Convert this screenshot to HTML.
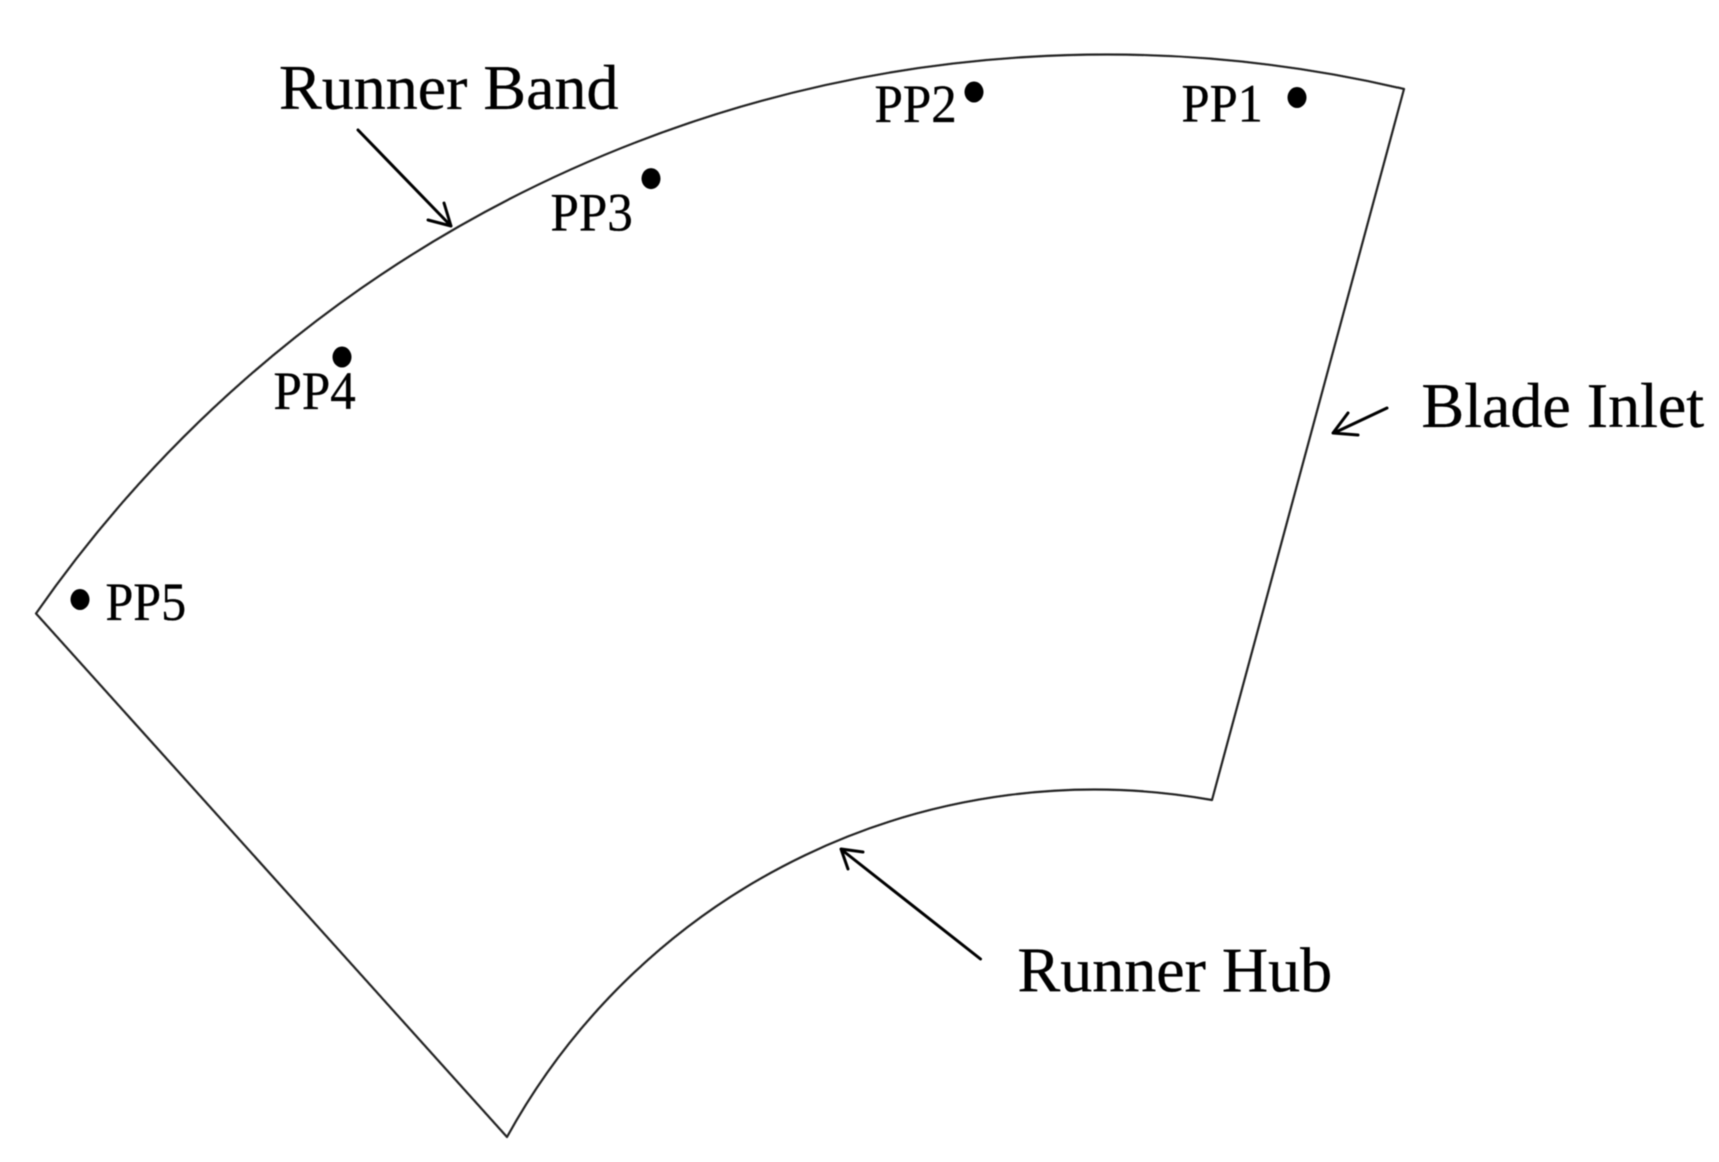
<!DOCTYPE html>
<html lang="en">
<head>
<meta charset="utf-8">
<title>Runner blade diagram</title>
<style>
html,body{margin:0;padding:0;background:#fff;width:1719px;height:1162px;overflow:hidden}
svg{display:block}
text{font-family:"Liberation Serif",serif;fill:#000;stroke:#000;stroke-width:.35px}
.big{font-size:64px}
.small{font-size:50px}
</style>
</head>
<body>
<svg width="1719" height="1162" viewBox="0 0 1719 1162" xmlns="http://www.w3.org/2000/svg">
<defs><filter id="b" x="0" y="0" width="1719" height="1162" filterUnits="userSpaceOnUse"><feGaussianBlur stdDeviation="0.6"/></filter></defs>
<rect width="1719" height="1162" fill="#fff"/>
<g filter="url(#b)">
<path d="M36 613.5 A1304 1304 0 0 1 1404 89 L1212 800 A670 670 0 0 0 507 1137 Z" fill="none" stroke="#222" stroke-width="2.2" stroke-linejoin="round"/>
<g fill="none" stroke="#000" stroke-width="3" stroke-linecap="round" stroke-linejoin="round">
<path d="M358 130 L451 226 M428 220 L451 226 L444 203"/>
<path d="M1387 408 L1335 432.5 M1358 435 L1333 433 L1348 413"/>
<path d="M980.5 959 L842 850 M848 869 L841 849 L863 852"/>
</g>
<g fill="#000">
<ellipse cx="651" cy="178.6" rx="9.5" ry="10.5"/>
<ellipse cx="342" cy="357" rx="9.5" ry="10.5"/>
<ellipse cx="974" cy="92" rx="9.5" ry="10.5"/>
<ellipse cx="1297" cy="97.5" rx="9.5" ry="10.5"/>
<ellipse cx="80" cy="599.5" rx="9.5" ry="10.5"/>
</g>
<text class="big" x="279" y="109">Runner Band</text>
<text class="big" x="1421.5" y="427">Blade Inlet</text>
<text class="big" x="1017.5" y="991.5">Runner Hub</text>
<text class="small" transform="translate(1181.5 121.5) scale(1.01 1.07)">PP1</text>
<text class="small" transform="translate(874.5 122) scale(1.02 1.07)">PP2</text>
<text class="small" transform="translate(550.5 230.5) scale(1.02 1.07)">PP3</text>
<text class="small" transform="translate(273.5 409) scale(1.02 1.07)">PP4</text>
<text class="small" transform="translate(105.5 620) scale(1.0 1.07)">PP5</text>
</g>
</svg>
</body>
</html>
